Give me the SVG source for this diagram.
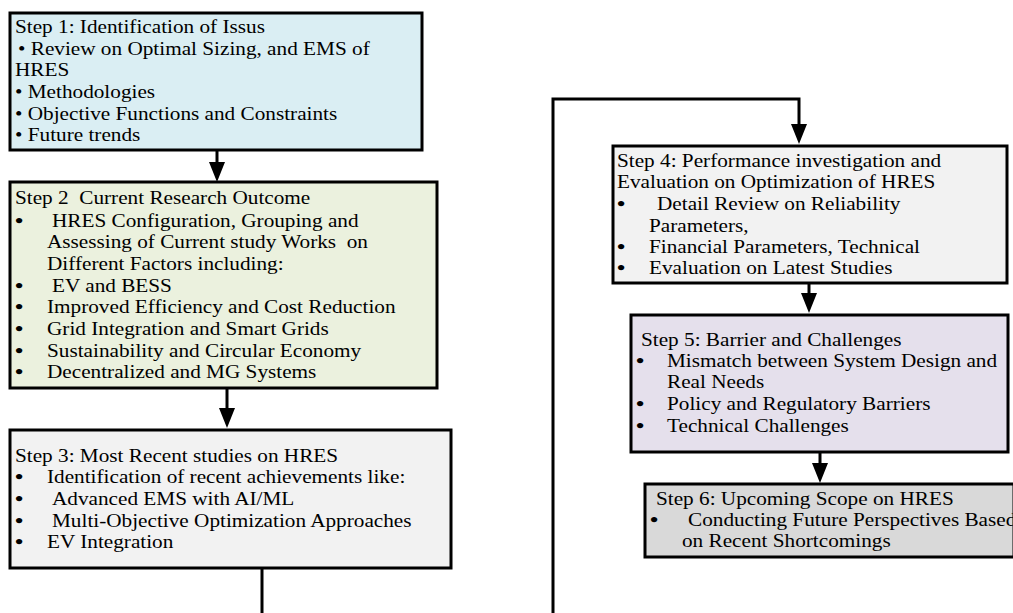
<svg xmlns="http://www.w3.org/2000/svg" width="1013" height="613" viewBox="0 0 1013 613">
<style>
.box{stroke:#000;stroke-width:3}
.t{font-family:"Liberation Serif","Times New Roman",serif;font-size:18px;fill:#000}
.b{font-family:"Liberation Serif","Times New Roman",serif;font-size:18px;font-weight:bold;fill:#000}
.c{fill:none;stroke:#000;stroke-width:3}
</style>
<defs>
<marker id="ah" markerUnits="userSpaceOnUse" viewBox="0 0 20 16" markerWidth="20" markerHeight="16" refX="10" refY="8" orient="auto">
<path d="M0,0 L20,8 L0,16 Z" fill="#000"/>
</marker>
</defs>
<rect width="1013" height="613" fill="#fff"/>
<g id="connectors">
<path class="c" d="M217,150 V172" marker-end="url(#ah)"/>
<path class="c" d="M227,388 V418" marker-end="url(#ah)"/>
<path class="c" d="M262,568 V615"/>
<path class="c" d="M553,615 V99 H799 V134" marker-end="url(#ah)"/>
<path class="c" d="M809,283 V303" marker-end="url(#ah)"/>
<path class="c" d="M820,452 V473" marker-end="url(#ah)"/>
</g>
<g id="step1">
<rect class="box" x="10" y="13" width="412" height="137" fill="#DAEEF3"/>
<text class="t" transform="translate(15,33) scale(1.18 1)">Step 1: Identification of Issus</text>
<text class="t" transform="translate(18,55) scale(1.18 1)">• Review on Optimal Sizing, and EMS of</text>
<text class="t" transform="translate(15,76) scale(1.18 1)">HRES</text>
<text class="t" transform="translate(15,98) scale(1.18 1)">• Methodologies</text>
<text class="t" transform="translate(15,120) scale(1.18 1)">• Objective Functions and Constraints</text>
<text class="t" transform="translate(15,141) scale(1.18 1)">• Future trends</text>
</g>
<g id="step2">
<rect class="box" x="10" y="182" width="427" height="206" fill="#EBF1DE"/>
<text class="t" transform="translate(15,204) scale(1.18 1)">Step 2&#160; Current Research Outcome</text>
<text class="b" transform="translate(15,227) scale(1.3 1)">•</text>
<text class="t" transform="translate(52,227) scale(1.18 1)">HRES Configuration, Grouping and</text>
<text class="t" transform="translate(47,248) scale(1.18 1)">Assessing of Current study Works&#160; on</text>
<text class="t" transform="translate(47,270) scale(1.18 1)">Different Factors including:</text>
<text class="b" transform="translate(15,292) scale(1.3 1)">•</text>
<text class="t" transform="translate(52,292) scale(1.18 1)">EV and BESS</text>
<text class="b" transform="translate(15,313) scale(1.3 1)">•</text>
<text class="t" transform="translate(47,313) scale(1.18 1)">Improved Efficiency and Cost Reduction</text>
<text class="b" transform="translate(15,335) scale(1.3 1)">•</text>
<text class="t" transform="translate(47,335) scale(1.18 1)">Grid Integration and Smart Grids</text>
<text class="b" transform="translate(15,357) scale(1.3 1)">•</text>
<text class="t" transform="translate(47,357) scale(1.18 1)">Sustainability and Circular Economy</text>
<text class="b" transform="translate(15,378) scale(1.3 1)">•</text>
<text class="t" transform="translate(47,378) scale(1.18 1)">Decentralized and MG Systems</text>
</g>
<g id="step3">
<rect class="box" x="10" y="430" width="441" height="138" fill="#F2F2F2"/>
<text class="t" transform="translate(15,462) scale(1.18 1)">Step 3: Most Recent studies on HRES</text>
<text class="b" transform="translate(15,483) scale(1.3 1)">•</text>
<text class="t" transform="translate(47,483) scale(1.18 1)">Identification of recent achievements like:</text>
<text class="b" transform="translate(15,505) scale(1.3 1)">•</text>
<text class="t" transform="translate(52,505) scale(1.18 1)">Advanced EMS with AI/ML</text>
<text class="b" transform="translate(15,527) scale(1.3 1)">•</text>
<text class="t" transform="translate(52,527) scale(1.18 1)">Multi-Objective Optimization Approaches</text>
<text class="b" transform="translate(15,548) scale(1.3 1)">•</text>
<text class="t" transform="translate(47,548) scale(1.18 1)">EV Integration</text>
</g>
<g id="step4">
<rect class="box" x="613" y="146" width="394" height="137" fill="#F2F2F2"/>
<text class="t" transform="translate(617,167) scale(1.18 1)">Step 4: Performance investigation and</text>
<text class="t" transform="translate(617,188) scale(1.18 1)">Evaluation on Optimization of HRES</text>
<text class="b" transform="translate(617,210) scale(1.3 1)">•</text>
<text class="t" transform="translate(657,210) scale(1.18 1)">Detail Review on Reliability</text>
<text class="t" transform="translate(649,232) scale(1.18 1)">Parameters,</text>
<text class="b" transform="translate(617,253) scale(1.3 1)">•</text>
<text class="t" transform="translate(649,253) scale(1.18 1)">Financial Parameters, Technical</text>
<text class="b" transform="translate(617,274) scale(1.3 1)">•</text>
<text class="t" transform="translate(649,274) scale(1.18 1)">Evaluation on Latest Studies</text>
</g>
<g id="step5">
<rect class="box" x="631" y="315" width="377" height="137" fill="#E5E0EC"/>
<text class="t" transform="translate(641,346) scale(1.18 1)">Step 5: Barrier and Challenges</text>
<text class="b" transform="translate(636,367) scale(1.3 1)">•</text>
<text class="t" transform="translate(667,367) scale(1.18 1)">Mismatch between System Design and</text>
<text class="t" transform="translate(667,388) scale(1.18 1)">Real Needs</text>
<text class="b" transform="translate(636,410) scale(1.3 1)">•</text>
<text class="t" transform="translate(667,410) scale(1.18 1)">Policy and Regulatory Barriers</text>
<text class="b" transform="translate(636,432) scale(1.3 1)">•</text>
<text class="t" transform="translate(667,432) scale(1.18 1)">Technical Challenges</text>
</g>
<g id="step6">
<rect class="box" x="645" y="484" width="369" height="73" fill="#D9D9D9"/>
<text class="t" transform="translate(656,505) scale(1.18 1)">Step 6: Upcoming Scope on HRES</text>
<text class="b" transform="translate(650,526) scale(1.3 1)">•</text>
<text class="t" transform="translate(688,526) scale(1.18 1)">Conducting Future Perspectives Based</text>
<text class="t" transform="translate(682,547) scale(1.18 1)">on Recent Shortcomings</text>
</g>
</svg>
